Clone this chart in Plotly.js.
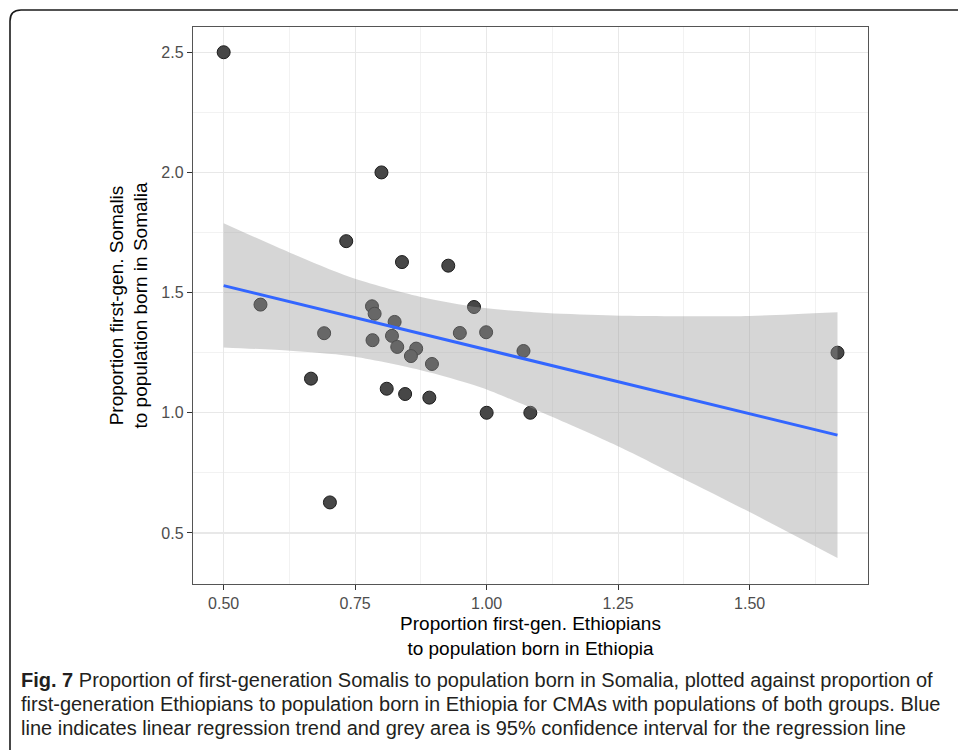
<!DOCTYPE html>
<html>
<head>
<meta charset="utf-8">
<script src="https://cdn.plot.ly/plotly-3.0.1.min.js"></script>
<style>
html,body{margin:0;padding:0;background:#fff;}
#chart{width:958px;height:750px;}
</style>
</head>
<body>
<div id="chart"></div>
<script>
// Scatter data: proportion first-gen Ethiopians (x) vs Somalis (y)
const ethiopiaProp = [0.500, 0.800, 0.733, 0.570, 0.691, 0.666, 0.702, 0.839, 0.927, 0.976,
                      0.782, 0.787, 0.825, 0.949, 0.999, 1.070, 0.783, 0.820, 0.830, 0.866,
                      0.856, 0.896, 0.810, 0.845, 0.891, 1.000, 1.083, 1.667];
const somaliaProp  = [2.500, 2.000, 1.714, 1.450, 1.331, 1.142, 0.627, 1.627, 1.612, 1.440,
                      1.443, 1.412, 1.378, 1.332, 1.335, 1.257, 1.302, 1.320, 1.274, 1.267,
                      1.236, 1.203, 1.100, 1.078, 1.063, 1.000, 1.000, 1.250];

// Regression line
const fitX = [0.500, 1.667];
const fitY = [1.529, 0.907];

// 95% confidence band
const bandX     = [0.500, 0.626, 0.740, 0.873, 0.988, 1.114, 1.241, 1.368, 1.500, 1.667];
const bandUpper = [1.789, 1.666, 1.565, 1.483, 1.438, 1.415, 1.405, 1.402, 1.403, 1.418];
const bandLower = [1.272, 1.258, 1.236, 1.178, 1.106, 0.993, 0.870, 0.732, 0.587, 0.396];

// Tick labels
const xTickVals = [0.5, 0.75, 1.0, 1.25, 1.5];
const xTickText = ["0.50", "0.75", "1.00", "1.25", "1.50"];
const yTickVals = [0.5, 1.0, 1.5, 2.0, 2.5];
const yTickText = ["0.5", "1.0", "1.5", "2.0", "2.5"];

const captionLines = [
  "<b>Fig. 7</b> Proportion of first-generation Somalis to population born in Somalia, plotted against proportion of",
  "first-generation Ethiopians to population born in Ethiopia for CMAs with populations of both groups. Blue",
  "line indicates linear regression trend and grey area is 95% confidence interval for the regression line"
];

// layout geometry in px
const W = 958, H = 750;
const M = {l: 193, r: 90, t: 27, b: 166};
const pw = W - M.l - M.r, ph = H - M.t - M.b;
const px2paperX = p => (p - M.l) / pw;
const px2paperY = p => (H - M.b - p) / ph;

const pts = {
  x: ethiopiaProp, y: somaliaProp, type: 'scatter', mode: 'markers',
  marker: {size: 13, color: '#474747', line: {color: '#1c1c1c', width: 1}},
  hoverinfo: 'x+y', showlegend: false
};
const bandLo = {
  x: bandX, y: bandLower, type: 'scatter', mode: 'lines',
  line: {width: 0, color: 'rgba(0,0,0,0)', shape: 'spline', smoothing: 0.8},
  hoverinfo: 'skip', showlegend: false
};
const bandHi = {
  x: bandX, y: bandUpper, type: 'scatter', mode: 'lines', fill: 'tonexty',
  fillcolor: 'rgba(153,153,153,0.4)',
  line: {width: 0, color: 'rgba(0,0,0,0)', shape: 'spline', smoothing: 0.8},
  hoverinfo: 'skip', showlegend: false
};
const fit = {
  x: fitX, y: fitY, type: 'scatter', mode: 'lines',
  line: {color: '#3366FF', width: 3}, hoverinfo: 'skip', showlegend: false
};

const axisFont = {family: 'Liberation Sans, Arial, Helvetica, sans-serif', size: 16, color: '#4d4d4d'};
const titleFont = {family: 'Liberation Sans, Arial, Helvetica, sans-serif', size: 19, color: '#000'};

const annotations = captionLines.map((t, i) => ({
  text: t, xref: 'paper', yref: 'paper',
  x: px2paperX(19), y: px2paperY(680 + 24 * i),
  xanchor: 'left', yanchor: 'middle', align: 'left', showarrow: false,
  font: {family: 'Liberation Sans, Arial, sans-serif', size: 20, color: '#231f20'}
}));

const frame = {
  type: 'path', xref: 'paper', yref: 'paper',
  path: `M ${px2paperX(10)},${px2paperY(770)} L ${px2paperX(10)},${px2paperY(21)} Q ${px2paperX(10)},${px2paperY(10)} ${px2paperX(21)},${px2paperY(10)} L ${px2paperX(975)},${px2paperY(10)}`,
  line: {color: '#1a1a1a', width: 1.6}
};

const layout = {
  width: W, height: H, margin: M,
  paper_bgcolor: '#fff', plot_bgcolor: '#fff',
  showlegend: false,
  xaxis: {
    range: [0.4417, 1.725], tickvals: xTickVals, ticktext: xTickText,
    showgrid: true, gridcolor: '#e8e8e8', gridwidth: 1.3,
    minor: {dtick: 0.25, tick0: 0.625, showgrid: true, gridcolor: '#f2f2f2', gridwidth: 1},
    zeroline: false, showline: true, mirror: true, linecolor: '#555', linewidth: 1.2,
    ticks: 'outside', ticklen: 5, tickcolor: '#333', tickwidth: 1,
    tickfont: axisFont,
    title: {text: 'Proportion first-gen. Ethiopians<br>to population born in Ethiopia', font: titleFont, standoff: 5}
  },
  yaxis: {
    range: [0.2876, 2.605], tickvals: yTickVals, ticktext: yTickText,
    showgrid: true, gridcolor: '#e8e8e8', gridwidth: 1.3,
    minor: {dtick: 0.5, tick0: 0.75, showgrid: true, gridcolor: '#f2f2f2', gridwidth: 1},
    zeroline: false, showline: true, mirror: true, linecolor: '#555', linewidth: 1.2,
    ticks: 'outside', ticklen: 5, tickcolor: '#333', tickwidth: 1,
    tickfont: axisFont,
    title: {text: 'Proportion first-gen. Somalis<br>to population born in Somalia', font: titleFont, standoff: 8}
  },
  annotations: annotations,
  shapes: [frame]
};

Plotly.newPlot('chart', [pts, bandLo, bandHi, fit], layout, {displayModeBar: false, staticPlot: true});
</script>
</body>
</html>
